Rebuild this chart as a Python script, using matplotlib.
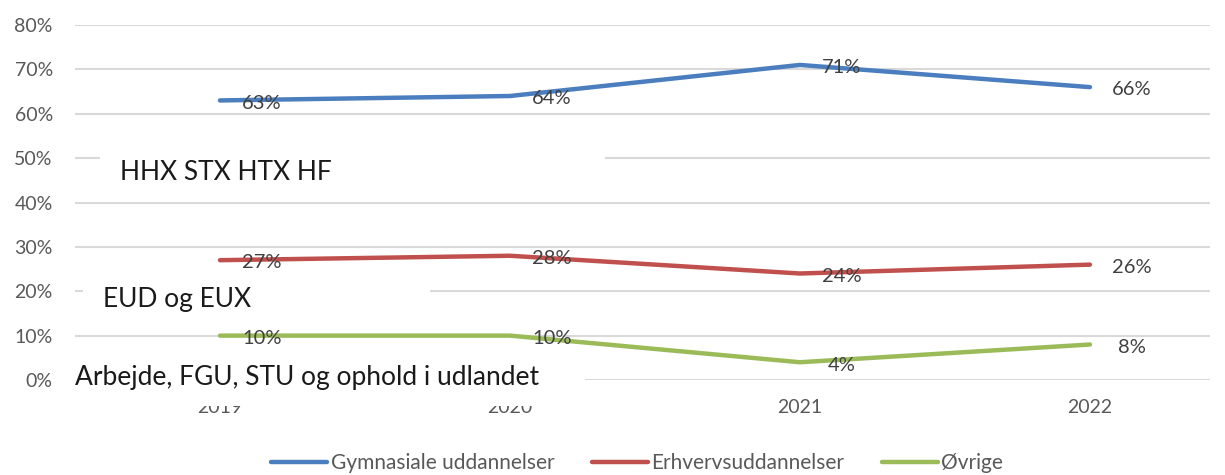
import matplotlib
matplotlib.use("Agg")
import matplotlib.pyplot as plt
from matplotlib.patches import Rectangle
from matplotlib.ticker import FuncFormatter

plt.rcParams['font.family'] = ['Lato', 'DejaVu Sans']

aar = ['2019', '2020', '2021', '2022']
gymnasiale = [0.63, 0.64, 0.71, 0.66]
erhverv = [0.27, 0.28, 0.24, 0.26]
oevrige = [0.10, 0.10, 0.04, 0.08]

serier = [
    ('Gymnasiale uddannelser', gymnasiale, '#4a7ebf'),
    ('Erhvervsuddannelser', erhverv, '#c0504d'),
    ('Øvrige', oevrige, '#9bbb59'),
]

W, H = 1225, 475
fig = plt.figure(figsize=(W / 100, H / 100), dpi=100)


def px(x0, y0, x1, y1):
    # pixel box (top-left origin) -> figure fraction rect
    return [x0 / W, 1 - y1 / H, (x1 - x0) / W, (y1 - y0) / H]


ax = fig.add_axes(px(75, 25, 1210, 380))
x = list(range(len(aar)))

for navn, vals, farve in serier:
    ax.plot(x, vals, color=farve, lw=3.2, label=navn, solid_capstyle='round', zorder=3)
    for xi, v in zip(x, vals):
        ax.annotate(f'{round(v * 100)}%', (xi, v), xytext=(30, -2),
                    textcoords='offset points', ha='center', va='center',
                    fontsize=14.5, color='#404040', zorder=4)

ax.set_xlim(-0.5, 3.414)
ax.set_ylim(0, 0.8)
ax.set_yticks([i / 10 for i in range(9)])
ax.yaxis.set_major_formatter(FuncFormatter(lambda v, p: f'{round(v * 100)}%'))
ax.set_xticks(x)
ax.set_xticklabels(aar)
ax.tick_params(length=0, labelsize=14, labelcolor='#595959')
ax.tick_params(axis='x', pad=14)
ax.tick_params(axis='y', pad=16)
ax.grid(axis='y', color='#d9d9d9', lw=1.5, zorder=0)
for s in ax.spines.values():
    s.set_visible(False)

# white label boxes over the gridlines
bokse = [
    ((100, 140, 605, 200), 'HHX STX HTX HF', 120, 172),
    ((83, 278, 430, 322), 'EUD og EUX', 103, 300),
    ((75, 358, 585, 406), 'Arbejde, FGU, STU og ophold i udlandet', 75, 378),
]
for (x0, y0, x1, y1), tekst, tx, ty in bokse:
    fig.add_artist(Rectangle(px(x0, y0, x1, y1)[:2], (x1 - x0) / W, (y1 - y0) / H,
                             transform=fig.transFigure, facecolor='white',
                             edgecolor='none', zorder=5))
    fig.text(tx / W, 1 - ty / H, tekst, fontsize=19, color='#1a1a1a',
             ha='left', va='center', zorder=6)

fig.legend(loc='center', bbox_to_anchor=(0.52, 1 - 463 / H), ncol=3, frameon=False,
           fontsize=15, handlelength=2.7, columnspacing=1.8, handletextpad=0.15,
           labelcolor='#595959')

fig.savefig('out.png', dpi=100)
